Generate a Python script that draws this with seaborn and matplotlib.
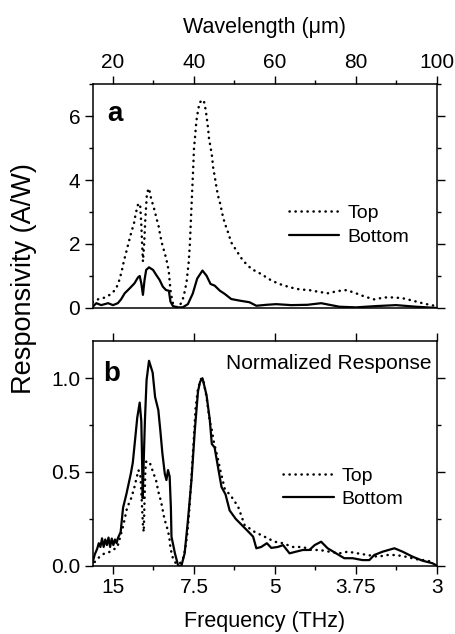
import numpy as np
import matplotlib
matplotlib.use("Agg")
import matplotlib.pyplot as plt
import seaborn as sns
from matplotlib.ticker import MultipleLocator, FixedLocator

sns.set_style("ticks")
plt.rcParams['font.family'] = ['Liberation Sans', 'DejaVu Sans']
plt.rcParams['text.color'] = 'black'
plt.rcParams['axes.labelcolor'] = 'black'
plt.rcParams['xtick.color'] = 'black'
plt.rcParams['ytick.color'] = 'black'

# ---- panel a: raw responsivity (A/W) vs wavelength (um) ----
wl_a_top = [15.0, 16.3, 17.8, 19.2, 20.7, 21.6, 22.2, 22.7, 23.3, 23.9, 24.5, 25.2, 25.6, 26.2,
            26.7, 27.0, 27.2, 27.4, 27.7, 28.0, 28.4, 28.9, 29.4, 30.1, 30.7, 31.3, 31.7, 32.2,
            32.9, 33.4, 33.8, 34.0, 34.3, 34.8, 35.5, 36.3, 37.2, 37.8, 38.2, 38.7, 39.0, 39.2,
            39.4, 39.6, 39.8, 40.0, 40.4, 40.6, 41.0, 41.4, 42.4, 42.9, 43.2, 43.5, 43.7, 44.1,
            44.5, 44.7, 45.1, 45.5, 45.9, 46.5, 47.0, 47.6, 48.4, 49.2, 50.5, 52.1, 54.2, 56.6,
            59.1, 61.1, 63.6, 66.1, 68.4, 70.6, 73.0, 75.5, 77.7, 80.0, 82.3, 84.5, 87.0, 89.5,
            91.7, 94.0, 96.4, 98.5, 100.0]
r_a_top = [0.18, 0.27, 0.32, 0.41, 0.58, 0.88, 1.17, 1.47, 1.76, 2.06, 2.35, 2.65, 2.94, 3.24,
           3.26, 2.6, 2.0, 1.45, 2.0, 2.8, 3.6, 3.74, 3.43, 3.13, 2.83, 2.54, 2.25, 1.97,
           1.66, 1.40, 1.13, 0.82, 0.45, 0.15, 0.03, 0.03, 0.25, 0.56, 0.84, 1.43, 2.02, 2.62,
           3.2, 3.77, 4.34, 4.97, 5.54, 5.85, 6.17, 6.43, 6.5, 6.19, 5.9, 5.6, 5.31, 5.02,
           4.71, 4.42, 4.13, 3.82, 3.53, 3.25, 2.94, 2.65, 2.37, 2.05, 1.79, 1.48, 1.22, 1.06,
           0.86, 0.75, 0.65, 0.58, 0.56, 0.51, 0.46, 0.53, 0.56, 0.46, 0.35, 0.27, 0.33, 0.33,
           0.30, 0.23, 0.15, 0.09, 0.06]

wl_a_bot = [15.0, 15.9, 17.1, 18.8, 20.0, 21.2, 22.0, 22.9, 24.1, 25.3, 26.2, 26.6, 27.0, 27.4,
            27.8, 28.2, 28.9, 29.9, 30.7, 31.5, 32.3, 33.1, 33.8, 34.2, 34.8, 36.0, 37.2, 38.5,
            39.7, 40.8, 42.1, 43.1, 44.1, 45.1, 46.4, 47.6, 49.2, 51.3, 53.7, 55.4, 57.9, 60.3,
            64.0, 68.0, 71.4, 75.9, 80.0, 85.0, 89.9, 94.8, 98.9, 100.0]
r_a_bot = [0.04, 0.15, 0.09, 0.15, 0.09, 0.15, 0.27, 0.46, 0.61, 0.77, 0.96, 1.0, 0.77, 0.41,
           0.88, 1.19, 1.27, 1.19, 1.03, 0.88, 0.67, 0.56, 0.54, 0.2, 0.06, 0.02, 0.02, 0.12,
           0.45, 0.92, 1.17, 1.01, 0.75, 0.70, 0.54, 0.44, 0.28, 0.23, 0.18, 0.07, 0.10, 0.12,
           0.09, 0.10, 0.15, 0.04, 0.02, 0.06, 0.09, 0.04, 0.01, 0.0]

# ---- panel b: normalized response ----
wl_b_top = [15.5, 16.3, 17.9, 19.4, 21.1, 22.5, 23.5, 24.5, 25.2, 25.7, 26.3, 26.8, 27.1, 27.4,
            27.6, 27.8, 28.0, 28.2, 29.0, 29.9, 30.7, 31.2, 31.9, 32.7, 33.4, 33.9, 34.2, 34.8,
            35.6, 36.4, 37.2, 37.8, 38.3, 38.8, 39.4, 40.0, 40.4, 41.0, 41.8, 42.4, 43.1, 43.9,
            44.5, 44.8, 45.7, 46.5, 47.6, 49.2, 50.9, 52.5, 55.0, 57.4, 59.9, 61.9, 64.4, 66.9,
            68.9, 71.0, 73.4, 75.9, 78.0, 80.4, 82.9, 85.4, 87.8, 89.9, 92.3, 94.8, 97.3, 99.3]
n_b_top = [0.02, 0.04, 0.066, 0.075, 0.10, 0.21, 0.31, 0.36, 0.41, 0.457, 0.51, 0.475, 0.35, 0.22,
           0.18, 0.35, 0.51, 0.555, 0.555, 0.50, 0.45, 0.395, 0.34, 0.25, 0.20, 0.155, 0.093, 0.04,
           0.01, 0.01, 0.03, 0.084, 0.16, 0.28, 0.48, 0.69, 0.84, 0.946, 1.0, 0.98, 0.90, 0.77,
           0.715, 0.67, 0.59, 0.51, 0.41, 0.37, 0.315, 0.217, 0.18, 0.155, 0.128, 0.12, 0.10, 0.10,
           0.084, 0.084, 0.075, 0.066, 0.075, 0.066, 0.057, 0.048, 0.057, 0.057, 0.048, 0.035, 0.028, 0.018]

wl_b_bot = [14.9, 15.5, 16.1, 16.5, 16.9, 17.3, 17.7, 18.1, 18.5, 18.9, 19.3, 19.7, 20.1, 20.5,
            20.9, 21.2, 21.9, 22.5, 23.3, 24.4, 24.9, 25.5, 26.0, 26.6, 27.0, 27.2, 27.35, 27.6,
            27.9, 28.3, 28.9, 29.8, 30.4, 31.2, 31.7, 32.2, 32.8, 33.2, 33.6, 34.0, 34.3, 34.45,
            35.3, 36.1, 36.9, 37.7, 38.5, 39.4, 40.2, 41.0, 41.5, 42.1, 43.1, 43.9, 44.4, 45.1,
            45.9, 46.8, 47.8, 48.8, 50.3, 51.9, 53.5, 54.6, 55.4, 56.6, 58.0, 59.1, 60.7, 62.0,
            63.6, 65.2, 66.9, 68.5, 69.8, 71.4, 73.0, 75.1, 77.1, 79.2, 81.6, 83.3, 84.5, 86.6,
            89.5, 91.5, 94.0, 96.4, 98.9, 100.0]
n_b_bot = [0.01, 0.06, 0.09, 0.12, 0.10, 0.146, 0.10, 0.14, 0.11, 0.15, 0.10, 0.145, 0.11, 0.14,
           0.12, 0.146, 0.18, 0.31, 0.38, 0.49, 0.55, 0.68, 0.79, 0.87, 0.77, 0.555, 0.36, 0.56,
           0.78, 0.99, 1.093, 1.03, 0.90, 0.83, 0.72, 0.60, 0.49, 0.457, 0.51, 0.475, 0.31, 0.155,
           0.066, 0.0, 0.0, 0.066, 0.24, 0.46, 0.72, 0.93, 0.98, 1.0, 0.91, 0.78, 0.65, 0.63,
           0.53, 0.42, 0.38, 0.295, 0.25, 0.215, 0.18, 0.155, 0.093, 0.10, 0.12, 0.095, 0.10, 0.11,
           0.066, 0.075, 0.084, 0.084, 0.11, 0.128, 0.093, 0.066, 0.04, 0.04, 0.03, 0.03, 0.057, 0.075,
           0.093, 0.075, 0.048, 0.027, 0.013, 0.0]

# ---- axis ticks ----
wl_major = [20, 40, 60, 80, 100]
wl_labels = ["20", "40", "60", "80", "100"]
freq_labels = ["15", "7.5", "5", "3.75", "3"]

DOT = (0, (0.1, 2.3))
TICK_FS = 15
LABEL_FS = 15.5

fig = plt.figure(figsize=(4.56, 6.34), dpi=100)
ax1 = fig.add_axes([0.2033, 0.5142, 0.755, 0.3533])
ax2 = fig.add_axes([0.2033, 0.1077, 0.755, 0.3549])

sns.lineplot(x=wl_a_top, y=r_a_top, ax=ax1, color="black", lw=1.8, linestyle=DOT,
             dash_capstyle="round", sort=False, estimator=None, label="Top")
sns.lineplot(x=wl_a_bot, y=r_a_bot, ax=ax1, color="black", lw=1.6,
             sort=False, estimator=None, label="Bottom")
sns.lineplot(x=wl_b_top, y=n_b_top, ax=ax2, color="black", lw=1.8, linestyle=DOT,
             dash_capstyle="round", sort=False, estimator=None, label="Top")
sns.lineplot(x=wl_b_bot, y=n_b_bot, ax=ax2, color="black", lw=1.6,
             sort=False, estimator=None, label="Bottom")

for ax in (ax1, ax2):
    ax.set_xlim(15, 100)
    ax.xaxis.set_major_locator(FixedLocator(wl_major))
    ax.xaxis.set_minor_locator(MultipleLocator(10))
    for s in ax.spines.values():
        s.set_visible(True)
        s.set_linewidth(1.1)
        s.set_color("black")
    ax.tick_params(which="major", direction="out", length=6, width=1.0, color="black",
                   labelsize=TICK_FS, pad=3, labelcolor="black")
    ax.tick_params(which="minor", direction="out", length=3, width=1.0, color="black")
    ax.tick_params(axis="y", which="both", left=True, right=True, labelright=False)
    ax.set_xlabel("")
    ax.set_ylabel("")

# panel a
ax1.set_ylim(0, 7)
ax1.yaxis.set_major_locator(MultipleLocator(2))
ax1.yaxis.set_minor_locator(MultipleLocator(1))
ax1.set_xticklabels(wl_labels)
ax1.tick_params(axis="x", which="both", bottom=False, top=True, labelbottom=False, labeltop=True)
ax1.xaxis.set_label_position("top")
ax1.set_xlabel("Wavelength (\u03bcm)", fontsize=LABEL_FS, labelpad=14)
ax1.text(0.041, 0.836, "a", transform=ax1.transAxes, fontsize=20, fontweight="bold",
         va="baseline", ha="left")
ax1.legend(loc="center left", bbox_to_anchor=(0.570, 0.37), frameon=False, fontsize=14,
           handlelength=2.6, handletextpad=0.4, labelspacing=0.3, borderpad=0, borderaxespad=0)

# panel b
ax2.set_ylim(0, 1.2)
ax2.yaxis.set_major_locator(FixedLocator([0.0, 0.5, 1.0]))
ax2.yaxis.set_minor_locator(FixedLocator([0.25, 0.75]))
ax2.set_yticklabels(["0.0", "0.5", "1.0"])
ax2.set_xticklabels(freq_labels)
ax2.tick_params(axis="x", which="major", bottom=True, top=True, labeltop=False, labelbottom=True)
ax2.tick_params(axis="x", which="minor", bottom=True, top=False)
ax2.set_xlabel("Frequency (THz)", fontsize=LABEL_FS, labelpad=10)
ax2.text(0.03, 0.822, "b", transform=ax2.transAxes, fontsize=20, fontweight="bold",
         va="baseline", ha="left")
ax2.text(0.985, 0.90, "Normalized Response", transform=ax2.transAxes, fontsize=15,
         va="center", ha="right")
ax2.legend(loc="center left", bbox_to_anchor=(0.553, 0.3476), frameon=False, fontsize=14,
           handlelength=2.6, handletextpad=0.4, labelspacing=0.3, borderpad=0, borderaxespad=0)

fig.text(0.053, 0.561, "Responsivity (A/W)", rotation=90, fontsize=19.5, va="center", ha="center")

fig.savefig("out.png", dpi=100)
